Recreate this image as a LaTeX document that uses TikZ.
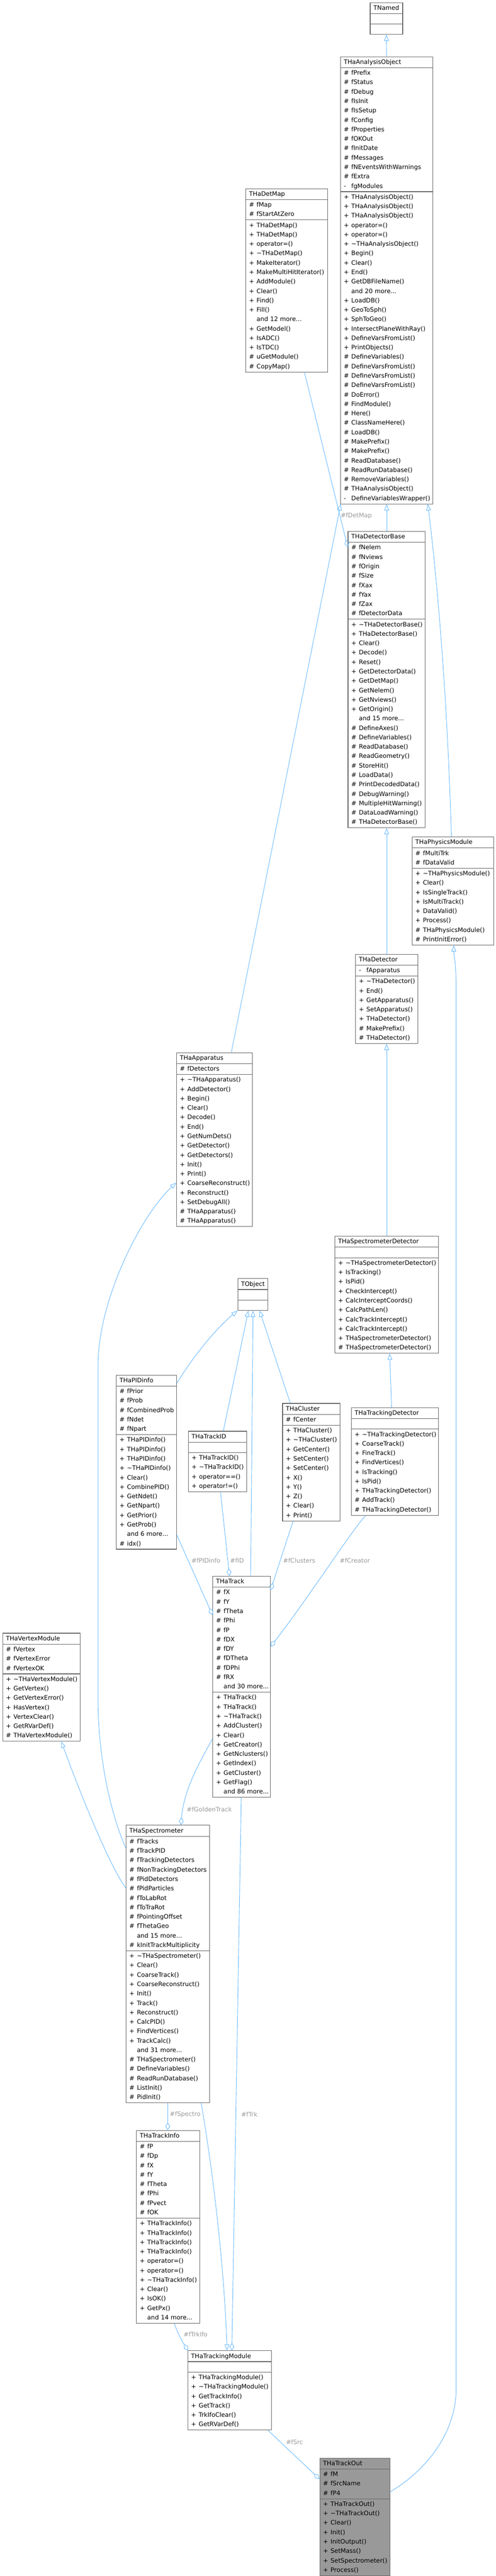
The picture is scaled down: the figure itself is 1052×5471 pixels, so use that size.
\documentclass[tikz,border=0pt]{standalone}
\usepackage{fontspec}
\setmainfont{DejaVu Sans}
\usetikzlibrary{shapes.multipart,arrows.meta}
\definecolor{edgec}{HTML}{63B8FF}
\definecolor{boxc}{HTML}{666666}
\definecolor{lblc}{HTML}{9A9A9A}
\definecolor{hlc}{HTML}{999999}
\newcommand\mrow[2]{\makebox[16pt][l]{#1}\mbox{#2}\strut}
\newcommand\ttl[1]{\centering\mbox{#1}\strut}
\newcommand\emp{\rule{0pt}{19pt}}
\newcommand\more[1]{\mrow{}{and #1 more...}}
\begin{document}
\begin{tikzpicture}[x=1pt,y=-1pt,
  cls/.style={rectangle split, rectangle split parts=3, draw=boxc, line width=1.2pt,
    fill=white, anchor=north west, inner xsep=7pt, inner ysep=1pt, align=left,
    font=\fontsize{13}{20}\selectfont, rectangle split ignore empty parts=false},
  inh/.style={draw=edgec, line width=1pt, -{Triangle[open, length=13pt, width=10pt]}},
  agg/.style={draw=edgec, line width=1pt, -{Diamond[open, length=16pt, width=10pt]}},
  lbl/.style={text=lblc, font=\fontsize{13}{16}\selectfont, inner sep=0pt}]
\path[use as bounding box, fill=white] (0,0) rectangle (1052,5471);

% ---------- classes ----------
\node[cls, text width=55pt] (tnamed) at (785,5) {\ttl{TNamed}\nodepart{two}\emp\nodepart{three}\emp};

\node[cls, text width=182pt] (aobj) at (722,120) {\ttl{THaAnalysisObject}
\nodepart{two}\mrow{\#}{fPrefix}\\\mrow{\#}{fStatus}\\\mrow{\#}{fDebug}\\\mrow{\#}{fIsInit}\\
\mrow{\#}{fIsSetup}\\\mrow{\#}{fConfig}\\\mrow{\#}{fProperties}\\\mrow{\#}{fOKOut}\\
\mrow{\#}{fInitDate}\\\mrow{\#}{fMessages}\\\mrow{\#}{fNEventsWithWarnings}\\\mrow{\#}{fExtra}\\
\mrow{-}{fgModules}
\nodepart{three}\mrow{+}{THaAnalysisObject()}\\\mrow{+}{THaAnalysisObject()}\\\mrow{+}{THaAnalysisObject()}\\
\mrow{+}{operator=()}\\\mrow{+}{operator=()}\\\mrow{+}{\textasciitilde THaAnalysisObject()}\\
\mrow{+}{Begin()}\\\mrow{+}{Clear()}\\\mrow{+}{End()}\\\mrow{+}{GetDBFileName()}\\\more{20}\\
\mrow{+}{LoadDB()}\\\mrow{+}{GeoToSph()}\\\mrow{+}{SphToGeo()}\\\mrow{+}{IntersectPlaneWithRay()}\\
\mrow{+}{DefineVarsFromList()}\\\mrow{+}{PrintObjects()}\\\mrow{\#}{DefineVariables()}\\
\mrow{\#}{DefineVarsFromList()}\\\mrow{\#}{DefineVarsFromList()}\\\mrow{\#}{DefineVarsFromList()}\\
\mrow{\#}{DoError()}\\\mrow{\#}{FindModule()}\\\mrow{\#}{Here()}\\\mrow{\#}{ClassNameHere()}\\
\mrow{\#}{LoadDB()}\\\mrow{\#}{MakePrefix()}\\\mrow{\#}{MakePrefix()}\\\mrow{\#}{ReadDatabase()}\\
\mrow{\#}{ReadRunDatabase()}\\\mrow{\#}{RemoveVariables()}\\\mrow{\#}{THaAnalysisObject()}\\
\mrow{-}{DefineVariablesWrapper()}};

\node[cls, text width=160pt] (detmap) at (521,400) {\ttl{THaDetMap}
\nodepart{two}\mrow{\#}{fMap}\\\mrow{\#}{fStartAtZero}
\nodepart{three}\mrow{+}{THaDetMap()}\\\mrow{+}{THaDetMap()}\\\mrow{+}{operator=()}\\
\mrow{+}{\textasciitilde THaDetMap()}\\\mrow{+}{MakeIterator()}\\\mrow{+}{MakeMultiHitIterator()}\\
\mrow{+}{AddModule()}\\\mrow{+}{Clear()}\\\mrow{+}{Find()}\\\mrow{+}{Fill()}\\\more{12}\\
\mrow{+}{GetModel()}\\\mrow{+}{IsADC()}\\\mrow{+}{IsTDC()}\\\mrow{\#}{uGetModule()}\\\mrow{\#}{CopyMap()}};

\node[cls, text width=150pt] (detbase) at (738,1128) {\ttl{THaDetectorBase}
\nodepart{two}\mrow{\#}{fNelem}\\\mrow{\#}{fNviews}\\\mrow{\#}{fOrigin}\\\mrow{\#}{fSize}\\
\mrow{\#}{fXax}\\\mrow{\#}{fYax}\\\mrow{\#}{fZax}\\\mrow{\#}{fDetectorData}
\nodepart{three}\mrow{+}{\textasciitilde THaDetectorBase()}\\\mrow{+}{THaDetectorBase()}\\
\mrow{+}{Clear()}\\\mrow{+}{Decode()}\\\mrow{+}{Reset()}\\\mrow{+}{GetDetectorData()}\\
\mrow{+}{GetDetMap()}\\\mrow{+}{GetNelem()}\\\mrow{+}{GetNviews()}\\\mrow{+}{GetOrigin()}\\\more{15}\\
\mrow{\#}{DefineAxes()}\\\mrow{\#}{DefineVariables()}\\\mrow{\#}{ReadDatabase()}\\
\mrow{\#}{ReadGeometry()}\\\mrow{\#}{StoreHit()}\\\mrow{\#}{LoadData()}\\\mrow{\#}{PrintDecodedData()}\\
\mrow{\#}{DebugWarning()}\\\mrow{\#}{MultipleHitWarning()}\\\mrow{\#}{DataLoadWarning()}\\
\mrow{\#}{THaDetectorBase()}};

\node[cls, text width=159pt] (physmod) at (874,1777) {\ttl{THaPhysicsModule}
\nodepart{two}\mrow{\#}{fMultiTrk}\\\mrow{\#}{fDataValid}
\nodepart{three}\mrow{+}{\textasciitilde THaPhysicsModule()}\\\mrow{+}{Clear()}\\
\mrow{+}{IsSingleTrack()}\\\mrow{+}{IsMultiTrack()}\\\mrow{+}{DataValid()}\\\mrow{+}{Process()}\\
\mrow{\#}{THaPhysicsModule()}\\\mrow{\#}{PrintInitError()}};

\node[cls, text width=118pt] (det) at (754,2026) {\ttl{THaDetector}
\nodepart{two}\mrow{-}{fApparatus}
\nodepart{three}\mrow{+}{\textasciitilde THaDetector()}\\\mrow{+}{End()}\\\mrow{+}{GetApparatus()}\\
\mrow{+}{SetApparatus()}\\\mrow{+}{THaDetector()}\\\mrow{\#}{MakePrefix()}\\\mrow{\#}{THaDetector()}};

\node[cls, text width=147pt] (app) at (374,2235) {\ttl{THaApparatus}
\nodepart{two}\mrow{\#}{fDetectors}
\nodepart{three}\mrow{+}{\textasciitilde THaApparatus()}\\\mrow{+}{AddDetector()}\\\mrow{+}{Begin()}\\
\mrow{+}{Clear()}\\\mrow{+}{Decode()}\\\mrow{+}{End()}\\\mrow{+}{GetNumDets()}\\\mrow{+}{GetDetector()}\\
\mrow{+}{GetDetectors()}\\\mrow{+}{Init()}\\\mrow{+}{Print()}\\\mrow{+}{CoarseReconstruct()}\\
\mrow{+}{Reconstruct()}\\\mrow{+}{SetDebugAll()}\\\mrow{\#}{THaApparatus()}\\\mrow{\#}{THaApparatus()}};

\node[cls, text width=206pt] (specdet) at (710,2625) {\ttl{THaSpectrometerDetector}
\nodepart{two}\emp
\nodepart{three}\mrow{+}{\textasciitilde THaSpectrometerDetector()}\\\mrow{+}{IsTracking()}\\
\mrow{+}{IsPid()}\\\mrow{+}{CheckIntercept()}\\\mrow{+}{CalcInterceptCoords()}\\\mrow{+}{CalcPathLen()}\\
\mrow{+}{CalcTrackIntercept()}\\\mrow{+}{CalcTrackIntercept()}\\\mrow{+}{THaSpectrometerDetector()}\\
\mrow{\#}{THaSpectrometerDetector()}};

\node[cls, text width=50pt] (tobj) at (504,2715) {\ttl{TObject}\nodepart{two}\emp\nodepart{three}\emp};

\node[cls, text width=114pt] (pid) at (246,2920) {\ttl{THaPIDinfo}
\nodepart{two}\mrow{\#}{fPrior}\\\mrow{\#}{fProb}\\\mrow{\#}{fCombinedProb}\\\mrow{\#}{fNdet}\\\mrow{\#}{fNpart}
\nodepart{three}\mrow{+}{THaPIDinfo()}\\\mrow{+}{THaPIDinfo()}\\\mrow{+}{THaPIDinfo()}\\
\mrow{+}{\textasciitilde THaPIDinfo()}\\\mrow{+}{Clear()}\\\mrow{+}{CombinePID()}\\\mrow{+}{GetNdet()}\\
\mrow{+}{GetNpart()}\\\mrow{+}{GetPrior()}\\\mrow{+}{GetProb()}\\\more{6}\\\mrow{\#}{idx()}};

\node[cls, text width=110pt] (tid) at (399,3039) {\ttl{THaTrackID}
\nodepart{two}\emp
\nodepart{three}\mrow{+}{THaTrackID()}\\\mrow{+}{\textasciitilde THaTrackID()}\\\mrow{+}{operator==()}\\
\mrow{+}{operator!=()}};

\node[cls, text width=108pt] (clus) at (599,2980) {\ttl{THaCluster}
\nodepart{two}\mrow{\#}{fCenter}
\nodepart{three}\mrow{+}{THaCluster()}\\\mrow{+}{\textasciitilde THaCluster()}\\\mrow{+}{GetCenter()}\\
\mrow{+}{SetCenter()}\\\mrow{+}{SetCenter()}\\\mrow{+}{X()}\\\mrow{+}{Y()}\\\mrow{+}{Z()}\\
\mrow{+}{Clear()}\\\mrow{+}{Print()}};

\node[cls, text width=171pt] (trkdet) at (745,2989) {\ttl{THaTrackingDetector}
\nodepart{two}\emp
\nodepart{three}\mrow{+}{\textasciitilde THaTrackingDetector()}\\\mrow{+}{CoarseTrack()}\\
\mrow{+}{FineTrack()}\\\mrow{+}{FindVertices()}\\\mrow{+}{IsTracking()}\\\mrow{+}{IsPid()}\\
\mrow{+}{THaTrackingDetector()}\\\mrow{\#}{AddTrack()}\\\mrow{\#}{THaTrackingDetector()}};

\node[cls, text width=108pt] (trk) at (451,3347) {\ttl{THaTrack}
\nodepart{two}\mrow{\#}{fX}\\\mrow{\#}{fY}\\\mrow{\#}{fTheta}\\\mrow{\#}{fPhi}\\\mrow{\#}{fP}\\
\mrow{\#}{fDX}\\\mrow{\#}{fDY}\\\mrow{\#}{fDTheta}\\\mrow{\#}{fDPhi}\\\mrow{\#}{fRX}\\\more{30}
\nodepart{three}\mrow{+}{THaTrack()}\\\mrow{+}{THaTrack()}\\\mrow{+}{\textasciitilde THaTrack()}\\
\mrow{+}{AddCluster()}\\\mrow{+}{Clear()}\\\mrow{+}{GetCreator()}\\\mrow{+}{GetNclusters()}\\
\mrow{+}{GetIndex()}\\\mrow{+}{GetCluster()}\\\mrow{+}{GetFlag()}\\\more{86}};

\node[cls, text width=151pt] (vtx) at (5,3468) {\ttl{THaVertexModule}
\nodepart{two}\mrow{\#}{fVertex}\\\mrow{\#}{fVertexError}\\\mrow{\#}{fVertexOK}
\nodepart{three}\mrow{+}{\textasciitilde THaVertexModule()}\\\mrow{+}{GetVertex()}\\
\mrow{+}{GetVertexError()}\\\mrow{+}{HasVertex()}\\\mrow{+}{VertexClear()}\\\mrow{+}{GetRVarDef()}\\
\mrow{\#}{THaVertexModule()}};

\node[cls, text width=163pt] (spec) at (267,3876) {\ttl{THaSpectrometer}
\nodepart{two}\mrow{\#}{fTracks}\\\mrow{\#}{fTrackPID}\\\mrow{\#}{fTrackingDetectors}\\
\mrow{\#}{fNonTrackingDetectors}\\\mrow{\#}{fPidDetectors}\\\mrow{\#}{fPidParticles}\\
\mrow{\#}{fToLabRot}\\\mrow{\#}{fToTraRot}\\\mrow{\#}{fPointingOffset}\\\mrow{\#}{fThetaGeo}\\
\more{15}\\\mrow{\#}{kInitTrackMultiplicity}
\nodepart{three}\mrow{+}{\textasciitilde THaSpectrometer()}\\\mrow{+}{Clear()}\\\mrow{+}{CoarseTrack()}\\
\mrow{+}{CoarseReconstruct()}\\\mrow{+}{Init()}\\\mrow{+}{Track()}\\\mrow{+}{Reconstruct()}\\
\mrow{+}{CalcPID()}\\\mrow{+}{FindVertices()}\\\mrow{+}{TrackCalc()}\\\more{31}\\
\mrow{\#}{THaSpectrometer()}\\\mrow{\#}{DefineVariables()}\\\mrow{\#}{ReadRunDatabase()}\\
\mrow{\#}{ListInit()}\\\mrow{\#}{PidInit()}};

\node[cls, text width=120pt] (tinfo) at (289,4524) {\ttl{THaTrackInfo}
\nodepart{two}\mrow{\#}{fP}\\\mrow{\#}{fDp}\\\mrow{\#}{fX}\\\mrow{\#}{fY}\\\mrow{\#}{fTheta}\\
\mrow{\#}{fPhi}\\\mrow{\#}{fPvect}\\\mrow{\#}{fOK}
\nodepart{three}\mrow{+}{THaTrackInfo()}\\\mrow{+}{THaTrackInfo()}\\\mrow{+}{THaTrackInfo()}\\
\mrow{+}{THaTrackInfo()}\\\mrow{+}{operator=()}\\\mrow{+}{operator=()}\\
\mrow{+}{\textasciitilde THaTrackInfo()}\\\mrow{+}{Clear()}\\\mrow{+}{IsOK()}\\\mrow{+}{GetPx()}\\\more{14}};

\node[cls, text width=163pt] (tmod) at (398,4992) {\ttl{THaTrackingModule}
\nodepart{two}\emp
\nodepart{three}\mrow{+}{THaTrackingModule()}\\\mrow{+}{\textasciitilde THaTrackingModule()}\\
\mrow{+}{GetTrackInfo()}\\\mrow{+}{GetTrack()}\\\mrow{+}{TrkIfoClear()}\\\mrow{+}{GetRVarDef()}};

\node[cls, fill=hlc, text width=135pt] (tout) at (678,5220) {\ttl{THaTrackOut}
\nodepart{two}\mrow{\#}{fM}\\\mrow{\#}{fSrcName}\\\mrow{\#}{fP4}
\nodepart{three}\mrow{+}{THaTrackOut()}\\\mrow{+}{\textasciitilde THaTrackOut()}\\\mrow{+}{Clear()}\\
\mrow{+}{Init()}\\\mrow{+}{InitOutput()}\\\mrow{+}{SetMass()}\\\mrow{+}{SetSpectrometer()}\\
\mrow{+}{Process()}};

% ---------- inheritance ----------
\draw[inh] (aobj.north) -- (tnamed.south);
\draw[inh] (detbase.north) -- (aobj.south);
\draw[inh] ([xshift=117pt]app.north west) -- ([xshift=1pt]aobj.south west);
\draw[inh] ([xshift=84pt]physmod.north west) .. controls (950,1500) and (930,1250) .. ([xshift=186pt]aobj.south west);
\draw[inh] (det.north) -- (detbase.south);
\draw[inh] (specdet.north) -- (det.south);
\draw[inh] ([xshift=86pt]trkdet.north west) -- ([xshift=117pt]specdet.south west);
\draw[inh] ([yshift=-18pt]pid.north east) .. controls (410,2880) and (460,2820) .. (tobj.south west);
\draw[inh] ([xshift=75pt]tid.north west) -- ([xshift=23pt]tobj.south west);
\draw[inh] ([xshift=81pt]trk.north west) -- ([xshift=33pt]tobj.south west);
\draw[inh] ([xshift=17pt]clus.north west) -- ([xshift=47pt]tobj.south west);
\draw[inh] ([yshift=-49pt]spec.north west) .. controls (230,3840) and (208,3720) .. (208,3608)
   -- (208,2900) .. controls (208,2760) and (300,2580) .. ([yshift=-277pt]app.north west);
\draw[inh] ([yshift=-134pt]spec.north west) .. controls (225,3950) and (160,3780) .. ([xshift=125pt]vtx.south west);
\draw[inh] ([xshift=160pt]spec.south west) .. controls (450,4600) and (475,4800) .. ([xshift=84pt]tmod.north west);
\draw[inh] ([yshift=-72pt]tout.north east) .. controls (900,5250) and (968,5170) .. (968,5074)
   -- (968,2100) .. controls (968,2040) and (963,2030) .. ([xshift=89pt]physmod.south west);

% ---------- aggregation ----------
\draw[agg] ([xshift=125pt]detmap.south west) -- ([yshift=-34pt]detbase.north west);
\draw[agg] ([yshift=-340pt]pid.north east) -- ([yshift=-83pt]trk.north west);
\draw[agg] ([xshift=69pt]tid.south west) -- ([xshift=36pt]trk.north west);
\draw[agg] ([xshift=23pt]clus.south west) -- ([yshift=-30pt]trk.north east);
\draw[agg] ([xshift=31pt]trkdet.south west) .. controls (750,3245) and (650,3400) .. ([yshift=-150pt]trk.north east);
\draw[agg] ([yshift=-346pt]trk.north west) .. controls (425,3740) and (390,3800) .. ([xshift=117pt]spec.north west);
\draw[agg] ([xshift=61pt]trk.south west) -- ([xshift=94pt]tmod.north west);
\draw[agg] ([xshift=89pt]spec.south west) -- ([xshift=67pt]tinfo.north west);
\draw[agg] ([xshift=81pt]tinfo.south west) .. controls (375,4950) and (385,4970) .. ([xshift=1pt]tmod.north west);
\draw[agg] ([xshift=171pt]tmod.south west) -- ([yshift=-45pt]tout.north west);

% ---------- labels ----------
\node[lbl] (l1) at (756,1095) {\#fDetMap};
\node[lbl] (l2) at (437,3314) {\#fPIDinfo};
\node[lbl] (l3) at (503,3314) {\#fID};
\node[lbl] (l4) at (635,3314) {\#fClusters};
\node[lbl] (l5) at (753,3314) {\#fCreator};
\node[lbl] (l6) at (444,3843) {\#fGoldenTrack};
\node[lbl] (l7) at (529,4491) {\#fTrk};
\node[lbl] (l8) at (393,4491) {\#fSpectro};
\node[lbl] (l9) at (415,4958) {\#fTrkIfo};
\node[lbl] (l10) at (625,5187) {\#fSrc};
\end{tikzpicture}
\end{document}
